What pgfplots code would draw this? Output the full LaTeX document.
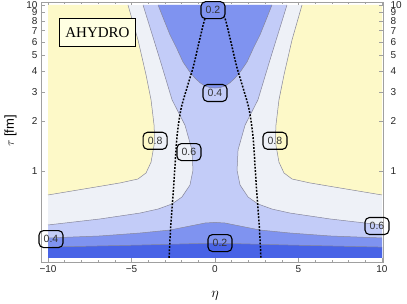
\documentclass[border=0pt]{standalone}
\usepackage{fontspec}
\setmainfont{Liberation Sans}
\newfontfamily\seriffont{Liberation Serif}
\usepackage{pgfplots}
\pgfplotsset{compat=1.18}
\definecolor{cdark}{RGB}{72,99,230}
\definecolor{cmed}{RGB}{127,147,240}
\definecolor{clight}{RGB}{195,204,248}
\definecolor{cvlight}{RGB}{238,241,247}
\definecolor{cyellow}{RGB}{253,249,200}
\definecolor{cframe}{RGB}{160,160,160}
\definecolor{cline}{RGB}{135,135,155}
\definecolor{cbox}{RGB}{255,255,226}
\tikzset{ahlbl/.style={draw=black, line width=1.1pt, rounded corners=4.5pt, inner sep=0pt,
    minimum width=24pt, minimum height=17pt, text=black!80,
    font=\fontsize{10.5}{11}\selectfont},
  ahcont/.style={draw=cline, line width=0.5pt}}
\begin{document}
\begin{tikzpicture}
\begin{axis}[scale only axis, width=342pt, height=260pt,
  xmin=-10.42, xmax=10.06, ymode=log, ymin=0.283, ymax=10.42,
  ytick={1,2,3,4,5,6,7,8,9,10}, yticklabels={1,2,3,4,5,6,7,8,9,10},
  tick label style={font=\fontsize{10}{12}\selectfont, text=black!85},
  major tick length=4pt, minor tick length=2.5pt,
  tick style={cframe, line width=0.5pt},
  axis line style={cframe, line width=0.6pt},
  clip=false,
  xtick={-10,-5,0,5,10}, xticklabels={−10,−5,0,5,10},
  minor xtick={-9,-8,-7,-6,-4,-3,-2,-1,1,2,3,4,6,7,8,9},
  ytick pos=left,
  xlabel={$\eta$}, ylabel={$\tau$ [fm]},
  xlabel style={at={(axis description cs:0.509,0)}, anchor=base, yshift=-36pt, font=\fontsize{14}{15}\selectfont},
  ylabel style={at={(axis description cs:-0.089,0.504)}, anchor=center, font=\fontsize{13}{14}\selectfont},
]
\coordinate (SW) at (rel axis cs:0,0);
\coordinate (NE) at (rel axis cs:1,1);
% background 0.6-0.8
\addplot[fill=cvlight, draw=none] coordinates {(-10,0.3)(10,0.3)(10,10)(-10,10)};
% yellow > 0.8 (left, right)
\addplot[fill=cyellow, draw=none] coordinates {
(-10,10)(-5.21,10)(-4.61,6.15)(-4.13,3.79)(-3.83,2.68)(-3.65,1.89)(-3.62,1.6)(-3.65,1.43)(-3.83,1.13)(-4.13,0.973)(-4.61,0.895)(-5.69,0.847)(-7.49,0.790)(-10,0.717)};
\addplot[fill=cyellow, draw=none] coordinates {
(10,10)(5.21,10)(4.61,6.15)(4.13,3.79)(3.83,2.68)(3.65,1.89)(3.62,1.6)(3.65,1.43)(3.83,1.13)(4.13,0.973)(4.61,0.895)(5.69,0.847)(7.49,0.790)(10,0.717)};
% light 0.4-0.6
\addplot[fill=clight, draw=none] coordinates {
(-4.31,10)(-3.29,4.66)(-2.57,2.68)(-1.80,1.89)(-1.38,1.34)(-1.32,1.01)(-1.50,0.823)(-1.98,0.697)(-2.57,0.633)(-3.41,0.590)(-4.49,0.558)(-6.89,0.514)(-10,0.473)
(-10,0.3)(10,0.3)
(10,0.473)(6.89,0.514)(4.49,0.558)(3.41,0.590)(2.57,0.633)(1.98,0.697)(1.50,0.823)(1.32,1.01)(1.38,1.34)(1.80,1.89)(2.57,2.68)(3.29,4.66)(4.31,10)};
% medium 0.2-0.4 (top)
\addplot[fill=cmed, draw=none] coordinates {
(-3.41,10)(-3.05,8.1)(-2.69,6.59)(-2.3,5.5)(-1.92,4.54)(-1.55,4.0)(-1.20,3.63)(-0.9,3.4)(-0.60,3.25)(-0.3,3.18)(0,3.16)(0.3,3.18)(0.60,3.25)(0.9,3.4)(1.20,3.63)(1.55,4.0)(1.92,4.54)(2.3,5.5)(2.69,6.59)(3.05,8.1)(3.41,10)};
% medium 0.2-0.4 (bottom band)
\addplot[fill=cmed, draw=none] coordinates {
(-10,0.395)(-6.89,0.406)(-4.49,0.423)(-2.69,0.441)(-1.50,0.466)(-0.6,0.486)(0,0.490)(0.6,0.486)(1.50,0.466)(2.69,0.441)(4.49,0.423)(6.89,0.406)(10,0.395)(10,0.3)(-10,0.3)};
% dark < 0.2
\addplot[fill=cdark, draw=none] coordinates {
(-10,0.348)(-4.49,0.358)(0,0.368)(4.49,0.358)(10,0.348)(10,0.3)(-10,0.3)};
% contour lines
\addplot[ahcont] coordinates {(-5.21,10)(-4.61,6.15)(-4.13,3.79)(-3.83,2.68)(-3.65,1.89)(-3.62,1.6)(-3.65,1.43)(-3.83,1.13)(-4.13,0.973)(-4.61,0.895)(-5.69,0.847)(-7.49,0.790)(-10,0.717)};
\addplot[ahcont] coordinates {(5.21,10)(4.61,6.15)(4.13,3.79)(3.83,2.68)(3.65,1.89)(3.62,1.6)(3.65,1.43)(3.83,1.13)(4.13,0.973)(4.61,0.895)(5.69,0.847)(7.49,0.790)(10,0.717)};
\addplot[ahcont] coordinates {(-4.31,10)(-3.29,4.66)(-2.57,2.68)(-1.80,1.89)(-1.38,1.34)(-1.32,1.01)(-1.50,0.823)(-1.98,0.697)(-2.57,0.633)(-3.41,0.590)(-4.49,0.558)(-6.89,0.514)(-10,0.473)};
\addplot[ahcont] coordinates {(10,0.473)(6.89,0.514)(4.49,0.558)(3.41,0.590)(2.57,0.633)(1.98,0.697)(1.50,0.823)(1.32,1.01)(1.38,1.34)(1.80,1.89)(2.57,2.68)(3.29,4.66)(4.31,10)};
\addplot[ahcont] coordinates {(-3.41,10)(-3.05,8.1)(-2.69,6.59)(-2.3,5.5)(-1.92,4.54)(-1.55,4.0)(-1.20,3.63)(-0.9,3.4)(-0.60,3.25)(-0.3,3.18)(0,3.16)(0.3,3.18)(0.60,3.25)(0.9,3.4)(1.20,3.63)(1.55,4.0)(1.92,4.54)(2.3,5.5)(2.69,6.59)(3.05,8.1)(3.41,10)};
\addplot[ahcont] coordinates {(-10,0.395)(-6.89,0.406)(-4.49,0.423)(-2.69,0.441)(-1.50,0.466)(-0.6,0.486)(0,0.490)(0.6,0.486)(1.50,0.466)(2.69,0.441)(4.49,0.423)(6.89,0.406)(10,0.395)};
\addplot[ahcont] coordinates {(-10,0.348)(-4.49,0.358)(0,0.368)(4.49,0.358)(10,0.348)};
% dotted boundary curve
\addplot[black, line width=1.5pt, dash pattern=on 1.8pt off 1.5pt, smooth, tension=0.5] coordinates {
(-2.75,0.3)(-2.66,0.45)(-2.57,0.607)(-2.48,0.8)(-2.40,1.057)(-2.28,1.6)(-2.05,2.33)(-1.72,3.07)(-1.30,4.25)(-0.95,6.0)(-0.6,8.3)(-0.3,9.3)(0,9.6)
(0.3,9.3)(0.6,8.3)(0.95,6.0)(1.30,4.25)(1.72,3.07)(2.05,2.33)(2.28,1.6)(2.40,1.057)(2.48,0.8)(2.57,0.607)(2.66,0.45)(2.75,0.3)};
% contour labels
\node[ahlbl, fill=cmed] at (axis cs:-0.12,9.3) {0.2};
\node[ahlbl] at (axis cs:0,2.95) {0.4};
\node[ahlbl] at (axis cs:-3.59,1.52) {0.8};
\node[ahlbl] at (axis cs:-1.56,1.30) {0.6};
\node[ahlbl] at (axis cs:3.59,1.52) {0.8};
\node[ahlbl] at (axis cs:-9.82,0.389) {0.4};
\node[ahlbl] at (axis cs:0.3,0.368) {0.2};
\node[ahlbl] at (axis cs:9.7,0.466) {0.6};
% AHYDRO box
\node[draw=black, line width=1.6pt, fill=cbox, minimum width=76pt, minimum height=28pt, inner sep=0pt,
  font=\seriffont\fontsize{15}{18}\selectfont] at (axis cs:-7.04,6.83) {AHYDRO};
\end{axis}
\begin{axis}[scale only axis, width=342pt, height=260pt,
  xmin=-10.42, xmax=10.06, ymode=log, ymin=0.283, ymax=10.42,
  ytick={1,2,3,4,5,6,7,8,9,10}, yticklabels={1,2,3,4,5,6,7,8,9,10},
  tick label style={font=\fontsize{10}{12}\selectfont, text=black!85},
  major tick length=4pt, minor tick length=2.5pt,
  tick style={cframe, line width=0.5pt},
  hide x axis, axis y line*=right, ytick pos=right, yticklabel pos=right,
  axis line style={draw=none},
  yticklabel style={xshift=4pt}]
\addplot[draw=none, forget plot] coordinates {(0,1)};
\end{axis}
\pgfresetboundingbox
\path[use as bounding box] ([shift={(-41pt,-42pt)}]SW) rectangle ([shift={(24pt,2pt)}]NE);
\end{tikzpicture}
\end{document}
